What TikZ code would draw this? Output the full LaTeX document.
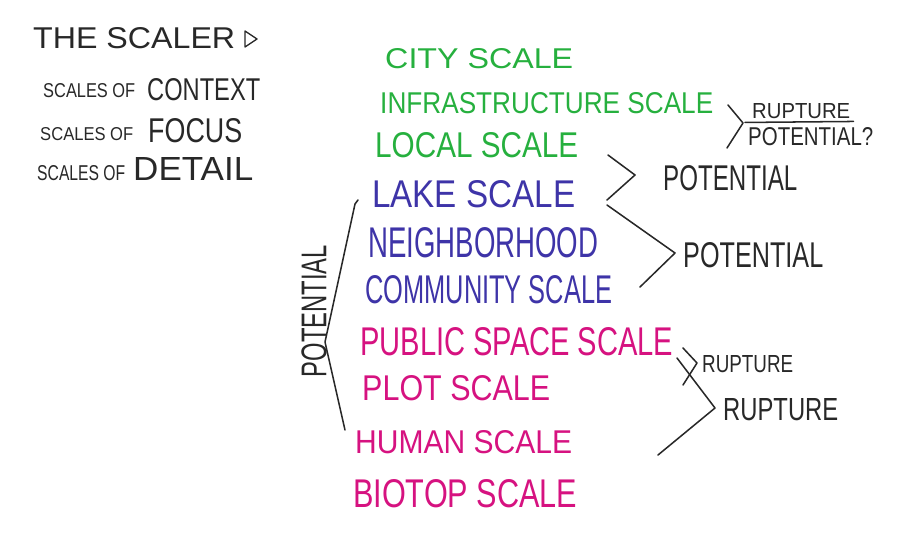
\documentclass[tikz,border=0pt]{standalone}
\usepackage{fontspec}
\setmainfont{Liberation Sans}
\usepackage{graphicx}
\usetikzlibrary{calc}
\definecolor{ctxgreen}{RGB}{38,176,62}
\definecolor{focblue}{RGB}{62,52,168}
\definecolor{detmag}{RGB}{214,18,128}
\definecolor{ink}{RGB}{40,40,40}
\newlength\pxu
\setlength\pxu{0.03cm}
% hand lettering: text squeezed into the box it takes on the sheet
\newcommand\lettered[3]{\resizebox{#1\pxu}{#2\pxu}{#3}}
\tikzset{
  lbl/.style={inner sep=0pt, anchor=base west, text=ink},
  ctx/.style={lbl, text=ctxgreen},
  foc/.style={lbl, text=focblue},
  det/.style={lbl, text=detmag},
  brk/.style={draw=ink, line width=1.3pt, line cap=round, line join=round},
}

\begin{document}
\begin{tikzpicture}[x=0.03cm, y=-0.03cm]
  \useasboundingbox[fill=white] (0,0) rectangle (922,548);

  % ============ legend ============
  \node[lbl] (title) at (33,48) {\lettered{202}{21}{THE SCALER}};
  \draw[brk, line width=1.1pt] (245,31) -- (257,39) -- (245,47) -- cycle;

  \node[lbl] (ctxa) at (43,97)  {\lettered{92}{14}{SCALES OF}};
  \node[lbl] (ctxb) at (147,100) {\lettered{113}{22}{CONTEXT}};
  \node[lbl] (foca) at (40,140) {\lettered{93}{13}{SCALES OF}};
  \node[lbl] (focb) at (148,142) {\lettered{94}{24}{FOCUS}};
  \node[lbl] (deta) at (37,180) {\lettered{88}{15}{SCALES OF}};
  \node[lbl] (detb) at (133,180) {\lettered{120}{23}{DETAIL}};

  % ============ the scales ============
  \node[ctx] (city)   at (385,68)  {\lettered{188}{20}{CITY SCALE}};
  \node[ctx] (infra)  at (380,113) {\lettered{333}{21}{INFRASTRUCTURE SCALE}};
  \node[ctx] (local)  at (375,157) {\lettered{203}{25}{LOCAL SCALE}};
  \node[foc] (lake)   at (372,207) {\lettered{203}{27}{LAKE SCALE}};
  \node[foc] (nbh)    at (368,257) {\lettered{230}{30}{NEIGHBORHOOD}};
  \node[foc] (comm)   at (365,303) {\lettered{247}{28}{COMMUNITY SCALE}};
  \node[det] (public) at (360,355) {\lettered{313}{28}{PUBLIC SPACE SCALE}};
  \node[det] (plot)   at (362,400) {\lettered{188}{25}{PLOT SCALE}};
  \node[det] (human)  at (355,453) {\lettered{217}{23}{HUMAN SCALE}};
  \node[det] (biotop) at (353,507) {\lettered{224}{28}{BIOTOP SCALE}};

  % ============ what lies between the scales ============
  \node[lbl] (rup1) at (752,118) {\lettered{98}{15}{RUPTURE}};
  \node[lbl] (pot1) at (748,145) {\lettered{125}{18}{POTENTIAL?}};
  \node[lbl] (pot2) at (663,190) {\lettered{134}{25}{POTENTIAL}};
  \node[lbl] (pot3) at (683,267) {\lettered{140}{25}{POTENTIAL}};
  \node[lbl] (rup2) at (702,372) {\lettered{91}{17}{RUPTURE}};
  \node[lbl] (rup3) at (723,420) {\lettered{115}{22}{RUPTURE}};
  \node[lbl, anchor=center, rotate=90] (pot4) at (314,311)
    {\lettered{132}{25}{POTENTIAL}};

  \draw[brk] ($(rup1.south west)+(-7,4)$) -- ($(rup1.south east)+(3,3)$);

  \coordinate (t1) at (743,123);
  \coordinate (t2) at (635,175);
  \coordinate (t3) at (675,253);
  \coordinate (t4) at (697,363);
  \coordinate (t5) at (715,408);
  \coordinate (tL) at (325,342);

  \draw[brk] (728,105) -- (t1) -- (727,148);
  \draw[brk] (608,155) -- (t2) -- (607,200);
  \draw[brk] (607,205) -- (t3) -- (640,287);
  \draw[brk] (683,348) -- (t4) -- (683,385);
  \draw[brk] (677,358) -- (t5) -- (658,455);
  \draw[brk] (358,200) -- (355,204) -- (tL) -- (345,430);

\end{tikzpicture}
\end{document}
